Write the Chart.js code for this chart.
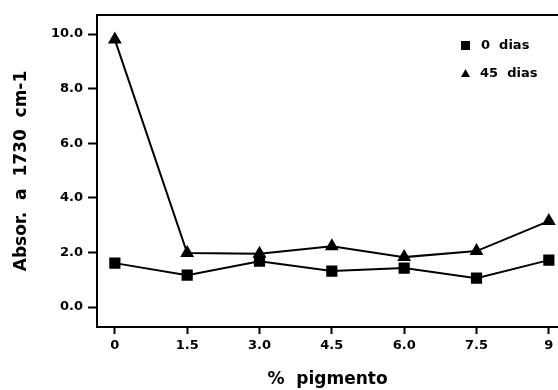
<!DOCTYPE html>
<html>
<head>
<meta charset="utf-8">
<script src="https://cdn.jsdelivr.net/npm/chart.js@4/dist/chart.umd.min.js"></script>
<style>
  html, body { margin: 0; padding: 0; background: #fff; overflow: hidden; }
  #wrap { width: 558px; height: 390px; }
</style>
</head>
<body>
<div id="wrap"><canvas id="myChart" width="558" height="390"></canvas></div>
<script>
// data
var xValues = [0, 1.5, 3.0, 4.5, 6.0, 7.5, 9];
var xTickLabels = ['0', '1.5', '3.0', '4.5', '6.0', '7.5', '9'];
var yTicks = [0, 2, 4, 6, 8, 10];
var dias0 = [1.61, 1.17, 1.68, 1.32, 1.43, 1.06, 1.72];
var dias45 = [9.8, 1.98, 1.95, 2.23, 1.83, 2.05, 3.15];
var seriesNames = ['0  dias', '45  dias'];

function toPoints(arr) {
  return arr.map(function (v, i) { return { x: xValues[i], y: v }; });
}

var font = '"DejaVu Sans", Verdana, sans-serif';

// top frame line + legend
var framePlugin = {
  id: 'frame',
  afterDraw: function (chart) {
    var c = chart.ctx, a = chart.chartArea;
    c.save();
    c.strokeStyle = '#000';
    c.lineWidth = 2;
    c.beginPath();
    c.moveTo(a.left - 1, a.top);
    c.lineTo(a.right, a.top);
    c.stroke();

    // legend
    c.fillStyle = '#000';
    c.font = 'bold 13px ' + font;
    c.textBaseline = 'middle';
    c.fillRect(461, 41, 9, 9);
    c.fillText(seriesNames[0], 481, 46);
    c.beginPath();
    c.moveTo(465.5, 69);
    c.lineTo(470, 77);
    c.lineTo(461, 77);
    c.closePath();
    c.fill();
    c.fillText(seriesNames[1], 480, 74);
    c.restore();
  }
};

var ctx = document.getElementById('myChart');

var chart = new Chart(ctx, {
  type: 'line',
  data: {
    datasets: [{
      label: seriesNames[0],
      data: toPoints(dias0),
      borderColor: '#000',
      backgroundColor: '#000',
      borderWidth: 2,
      pointStyle: 'rect',
      pointRadius: 6.5,
      pointHoverRadius: 6.5,
      tension: 0
    }, {
      label: seriesNames[1],
      data: toPoints(dias45),
      borderColor: '#000',
      backgroundColor: '#000',
      borderWidth: 2,
      pointStyle: 'triangle',
      pointRadius: 6,
      pointHoverRadius: 6,
      tension: 0
    }]
  },
  options: {
    responsive: false,
    animation: false,
    clip: false,
    layout: {
      autoPadding: false,
      padding: { top: 15, right: 0, left: 0, bottom: 0 }
    },
    plugins: {
      legend: false,
      tooltip: { enabled: false }
    },
    scales: {
      x: {
        type: 'linear',
        min: -0.37,
        max: 9.19,
        afterBuildTicks: function (scale) {
          scale.ticks = xValues.map(function (v) { return { value: v }; });
        },
        afterFit: function (scale) {
          scale.height = 63;
          scale.paddingLeft = 0;
          scale.paddingRight = 0;
        },
        ticks: {
          color: '#000',
          font: { family: font, size: 13, weight: 'bold' },
          padding: 4,
          maxRotation: 0,
          autoSkip: false,
          callback: function (v) {
            var i = xValues.indexOf(v);
            return i >= 0 ? xTickLabels[i] : '';
          }
        },
        grid: {
          drawOnChartArea: false,
          tickLength: 7,
          tickWidth: 2,
          color: '#000'
        },
        border: { color: '#000', width: 2 },
        title: {
          display: true,
          text: '%  pigmento',
          color: '#000',
          font: { family: font, size: 17, weight: 'bold' },
          padding: { top: 9, bottom: 0 }
        }
      },
      y: {
        min: -0.73,
        max: 10.7,
        afterBuildTicks: function (scale) {
          scale.ticks = yTicks.map(function (v) { return { value: v }; });
        },
        afterFit: function (scale) {
          scale.width = 97;
          scale.paddingTop = 0;
          scale.paddingBottom = 0;
        },
        ticks: {
          color: '#000',
          font: { family: font, size: 13, weight: 'bold' },
          padding: 5,
          callback: function (v) { return v.toFixed(1); }
        },
        grid: {
          drawOnChartArea: false,
          tickLength: 9,
          tickWidth: 2,
          color: '#000'
        },
        border: { color: '#000', width: 2 },
        title: {
          display: true,
          text: 'Absor.  a  1730  cm-1',
          color: '#000',
          font: { family: font, size: 17, weight: 'bold' },
          padding: { top: 11, bottom: 0 }
        }
      }
    }
  },
  plugins: [framePlugin]
});
</script>
</body>
</html>
